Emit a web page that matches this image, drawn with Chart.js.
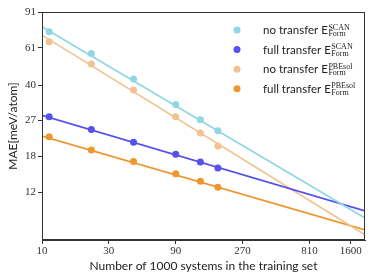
<!DOCTYPE html>
<html>
<head>
<meta charset="utf-8">
<script src="https://cdn.jsdelivr.net/npm/chart.js@4.4.1/dist/chart.umd.min.js"></script>
<style>
html,body{margin:0;padding:0;background:#fff;}
#wrap{width:374px;height:280px;}
</style>
</head>
<body>
<div id="wrap"><canvas id="c" width="374" height="280"></canvas></div>
<script>
// ---- data ----
const trainSizes = [11.25, 22.5, 45, 90, 135, 180];
const noTransferSCAN   = [72.9, 57.1, 42.9, 32.2, 27.1, 24.0];
const fullTransferSCAN = [28.1, 24.3, 21.1, 18.4, 16.9, 15.8];
const noTransferPBEsol   = [65.1, 50.7, 37.9, 28.1, 23.4, 20.2];
const fullTransferPBEsol = [22.4, 19.3, 17.0, 14.8, 13.6, 12.7];
// fitted power-law lines, read at the plot edges (x = 10 and x = 2018)
const fitX = [10, 2018];
const fitNoSCAN   = [77.1, 9.0];
const fitFullSCAN = [28.5, 9.75];
const fitNoPBE    = [70.2, 7.45];
const fitFullPBE  = [22.6, 7.88];
const xTickValues = [10, 30, 90, 270, 810, 1600];
const xTickLabels = ['10', '30', '90', '270', '810', '1600'];
const yTickValues = [12, 18, 27, 40, 61, 91];
const yTickLabels = ['12', '18', '27', '40', '61', '91'];
const legendPrefix = ['no transfer E', 'full transfer E', 'no transfer E', 'full transfer E'];
const legendSup = ['SCAN', 'SCAN', 'PBEsol', 'PBEsol'];
const legendSub = ['Form', 'Form', 'Form', 'Form'];

const colors = ['#8fd7e2', '#5650ec', '#f2c291', '#ef962e'];
const series = [noTransferSCAN, fullTransferSCAN, noTransferPBEsol, fullTransferPBEsol];
const fits = [fitNoSCAN, fitFullSCAN, fitNoPBE, fitFullPBE];

const datasets = [];
fits.forEach((f, i) => {
  datasets.push({
    data: fitX.map((x, k) => ({x: x, y: f[k]})),
    borderColor: colors[i], borderWidth: 1.7, pointRadius: 0,
    showLine: true, fill: false, order: 2
  });
});
series.forEach((s, i) => {
  datasets.push({
    data: trainSizes.map((x, k) => ({x: x, y: s[k]})),
    backgroundColor: colors[i], borderColor: colors[i], borderWidth: 0,
    pointRadius: 3.5, showLine: false, order: 1
  });
});

const frameLegend = {
  id: 'frameLegend',
  afterDraw(chart) {
    const ctx = chart.ctx, a = chart.chartArea;
    ctx.save();
    ctx.strokeStyle = '#333';
    ctx.lineWidth = 1;
    ctx.strokeRect(a.left + 0.5, a.top + 0.5, a.right - a.left - 1, a.bottom - a.top - 1);
    for (let i = 0; i < 4; i++) {
      const cy = 30 + 19.6 * i;
      ctx.fillStyle = colors[i];
      ctx.beginPath(); ctx.arc(237, cy, 3.5, 0, Math.PI * 2); ctx.fill();
      ctx.fillStyle = '#222';
      ctx.font = '11.5px Lato';
      ctx.textBaseline = 'alphabetic';
      ctx.textAlign = 'left';
      ctx.fillText(legendPrefix[i], 263, cy + 4);
      const w = ctx.measureText(legendPrefix[i]).width;
      ctx.font = '8px "Liberation Serif"';
      ctx.fillText(legendSup[i], 263 + w + 0.5, cy - 0.5);
      ctx.fillText(legendSub[i], 263 + w + 0.5, cy + 6);
    }
    ctx.restore();
  }
};

new Chart(document.getElementById('c'), {
  type: 'scatter',
  data: { datasets },
  options: {
    responsive: false, animation: false, devicePixelRatio: 1,
    layout: { padding: { left: 0, right: 9, top: 12, bottom: 0 } },
    plugins: { legend: { display: false }, tooltip: { enabled: false } },
    scales: {
      x: {
        type: 'logarithmic', min: 10, max: 2018,
        afterBuildTicks: s => { s.ticks = xTickValues.map(v => ({value: v})); },
        afterFit: s => { s.height = 40; },
        ticks: {
          autoSkip: false, maxRotation: 0, padding: 1, color: '#333',
          font: { family: '"Liberation Serif"', size: 11 },
          callback: (v, i) => xTickLabels[i]
        },
        grid: { display: true, drawOnChartArea: false, tickLength: 4, color: '#333' },
        border: { display: true, color: '#333' },
        title: { display: true, text: 'Number of 1000 systems in the training set',
          color: '#222', font: { family: 'Lato', size: 12 }, padding: { top: 0, bottom: 7 } }
      },
      y: {
        type: 'logarithmic', min: 7.03, max: 91,
        afterBuildTicks: s => { s.ticks = yTickValues.map(v => ({value: v})); },
        afterFit: s => { s.width = 42; },
        ticks: {
          autoSkip: false, padding: 2, color: '#333',
          font: { family: '"Liberation Serif"', size: 11 },
          callback: (v, i) => yTickLabels[i]
        },
        grid: { display: true, drawOnChartArea: false, tickLength: 4, color: '#333' },
        border: { display: true, color: '#333' },
        title: { display: true, text: 'MAE[meV/atom]',
          color: '#222', font: { family: 'Lato', size: 12 }, padding: { top: 6, bottom: 0 } }
      }
    }
  },
  plugins: [frameLegend]
});
</script>
</body>
</html>
